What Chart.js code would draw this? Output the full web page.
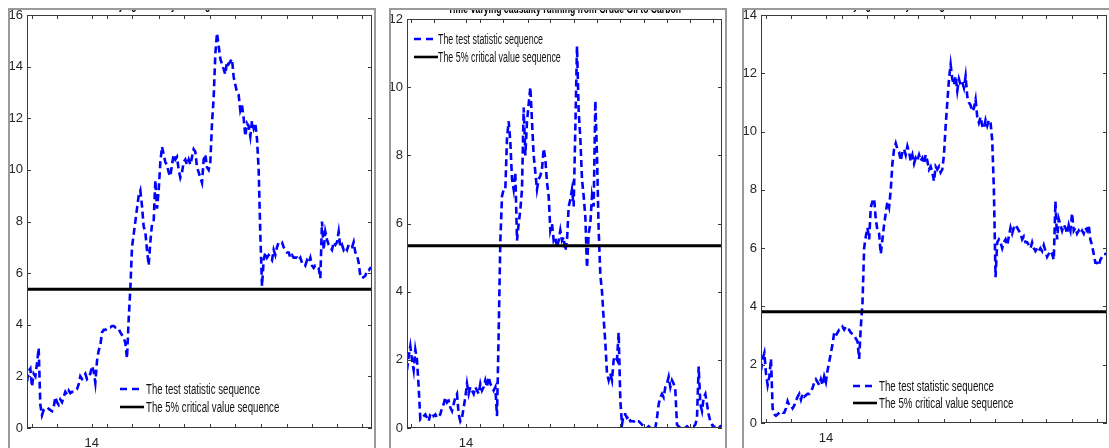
<!DOCTYPE html>
<html>
<head>
<meta charset="utf-8">
<script src="https://cdn.jsdelivr.net/npm/chart.js@4.4.0/dist/chart.umd.min.js"></script>
<style>
  body { margin: 0; background: #fff; width: 1109px; height: 448px; overflow: hidden; position: relative; }
  .panel { position: absolute; top: 8px; height: 460px; border: 2px solid #9a9a9a; overflow: hidden; background: #fff; }
  .panel canvas { display: block; }
</style>
</head>
<body>
<div class="panel" style="left:8px;width:364px;"><canvas id="c1" width="364" height="440"></canvas></div>
<div class="panel" style="left:389px;width:334px;"><canvas id="c2" width="334" height="440"></canvas></div>
<div class="panel" style="left:742px;width:380px;"><canvas id="c3" width="380" height="440"></canvas></div>
<script>
// ---- data ----
const legendLabels = ["The test statistic sequence", "The 5% critical value sequence"];
const titles = [
  "Time-varying causality running from Carbon to Crude Oil",
  "Time-varying causality running from Crude Oil to Carbon",
  "Time-varying causality running from Carbon to Crude Oil"
];

// x tick positions (share of the sample) and their labels
const xTickPos = [0.0136, 0.086, 0.1875, 0.2328, 0.305, 0.383, 0.454, 0.530, 0.603, 0.677, 0.753, 0.825, 0.898, 0.970];
const xTickLabels = ["", "", "14", "", "", "", "", "", "", "", "", "", "", ""];

// 5% critical values
const critValues = [5.38, 5.35, 3.82];
const yMaxes = [16, 12, 14];

// panel 1 test statistic
const stat1 = [
  1.8, 2.2, 2.3, 1.6, 2.1, 2.0, 2.5, 3.1, 0.9, 0.5,
  0.7, 0.75, 0.7, 0.75, 0.7, 0.65, 0.8, 1.2, 1.0, 0.9,
  1.1, 1.0, 1.2, 1.4, 1.3, 1.45, 1.35, 1.4, 1.4, 1.45,
  1.5, 1.7, 2.0, 1.9, 2.0, 2.1, 1.9, 2.0, 2.1, 2.4,
  2.2, 1.75, 2.6, 3.0, 3.2, 3.7, 3.8, 3.8, 3.85, 3.9,
  3.9, 3.95, 3.95, 3.9, 3.9, 3.85, 3.7, 3.6, 3.5, 3.3,
  2.7, 4.2, 5.4, 7.0, 7.5, 8.0, 8.5, 9.0, 9.2, 8.6,
  7.8, 7.6, 6.9, 6.3, 7.2, 7.9, 8.0, 9.6, 8.5, 9.2,
  10.3, 10.9, 10.6, 10.3, 10.2, 9.9, 9.75, 10.2, 10.6, 10.4,
  10.5, 10.0, 9.7, 9.9, 10.3, 10.4, 10.2, 10.4, 10.2, 10.5,
  10.8, 10.7, 10.1, 9.9, 9.7, 9.5, 10.4, 10.6, 10.1, 10.0,
  10.3, 11.8, 12.8, 14.5, 15.3, 14.8, 14.3, 14.1, 13.9, 13.7,
  14.2, 14.1, 14.2, 14.3, 13.6, 13.3, 13.0, 12.9, 12.3, 12.5,
  12.0, 11.3, 11.8, 11.7, 11.3, 11.9, 11.6, 11.8, 11.2, 10.0,
  7.5, 5.5, 6.5, 6.8, 6.6, 6.7, 6.6, 6.5, 6.9, 6.7,
  7.0, 7.2, 7.2, 7.2, 7.0, 6.9, 6.8, 6.8, 6.6, 6.7,
  6.6, 6.6, 6.6, 6.5, 6.6, 6.4, 6.4, 6.3, 6.5, 6.4,
  6.6, 6.3, 6.2, 6.3, 6.3, 6.2, 5.8, 8.0, 6.9, 7.6,
  7.3, 7.1, 7.0, 6.9, 7.2, 7.1, 7.2, 7.6, 7.0, 7.1,
  6.9, 7.0, 6.9, 7.1, 7.0, 7.0, 7.2, 6.8, 6.7, 6.4,
  5.9, 5.8, 5.85, 5.9, 6.1, 6.1, 6.2, 6.2
];

// panel 2 test statistic
const stat2 = [
  1.7, 2.1, 2.4, 2.0, 1.7, 2.3, 2.0, 1.2, 0.25, 0.3,
  0.35, 0.4, 0.3, 0.2, 0.4, 0.45, 0.35, 0.4, 0.3, 0.35,
  0.4, 0.6, 0.7, 0.9, 0.75, 0.8, 0.6, 0.5, 0.7, 0.9,
  1.0, 0.4, 0.2, 0.3, 0.6, 0.9, 1.3, 1.0, 1.2, 1.1,
  1.0, 1.2, 1.1, 1.0, 1.3, 1.1, 1.2, 1.4, 1.2, 1.5,
  1.3, 1.2, 1.1, 1.2, 0.35, 2.8, 5.5, 6.8, 7.0, 7.0,
  8.5, 9.0, 8.4, 7.3, 7.0, 7.5, 5.5, 6.0, 6.4, 7.0,
  9.4, 8.0, 9.0, 9.5, 10.0, 9.0, 8.0, 7.5, 7.0, 7.3,
  7.4, 7.6, 8.2, 7.9, 7.2, 6.8, 5.8, 6.0, 5.5, 5.6,
  5.3, 5.5, 5.8, 5.5, 5.6, 5.2, 5.5, 6.5, 6.7, 7.0,
  6.5, 8.8, 11.2, 9.3, 8.5, 7.3, 6.8, 6.2, 4.7, 5.7,
  6.0, 6.8, 6.5, 9.6, 8.0, 5.8, 4.5, 4.0, 3.2, 2.5,
  1.6, 1.4, 1.6, 1.4, 2.0, 2.1, 2.0, 2.8, 0.8, 0.1,
  0.4, 0.4, 0.3, 0.35, 0.2, 0.2, 0.2, 0.15, 0.2, 0.2,
  0.15, 0.1, 0.05, 0.0, 0.0, 0.05, 0.0, 0.05, 0.05, 0.0,
  0.3, 0.7, 0.9, 1.0, 0.9, 1.2, 1.3, 1.5, 1.2, 1.4,
  1.3, 1.1, 0.1, 0.05, 0.0, 0.0, 0.0, 0.0, 0.05, 0.0,
  0.0, 0.05, 0.05, 0.1, 0.3, 1.8, 0.7, 0.5, 0.9, 1.0,
  0.7, 0.4, 0.2, 0.1, 0.0, 0.05, 0.05, 0.0, 0.05, 0.0
];

// panel 3 test statistic
const stat3 = [
  1.8, 2.2, 2.4, 1.7, 1.3, 1.6, 2.2, 0.5, 0.3, 0.25,
  0.3, 0.35, 0.4, 0.35, 0.35, 0.5, 0.75, 0.6, 0.6, 0.5,
  0.6, 0.75, 0.9, 1.0, 0.8, 1.0, 0.9, 0.95, 1.0, 1.0,
  1.1, 1.2, 1.4, 1.5, 1.4, 1.3, 1.5, 1.3, 1.6, 1.4,
  1.8, 2.1, 2.4, 2.7, 3.1, 3.0, 3.1, 3.2, 3.2, 3.3,
  3.2, 3.3, 3.2, 3.2, 3.1, 3.05, 3.0, 2.9, 2.8, 2.2,
  3.3, 4.1, 6.0, 6.4, 6.7, 6.3, 7.4, 7.6, 7.7, 7.0,
  6.6, 6.5, 5.8, 6.3, 6.8, 7.2, 7.6, 7.4, 8.0, 8.9,
  9.4, 9.6, 9.4, 9.3, 9.0, 9.3, 9.4, 9.2, 9.5, 9.3,
  9.0, 9.2, 8.9, 9.1, 9.0, 9.2, 9.0, 9.1, 8.9, 9.2,
  9.0, 8.7, 8.8, 8.6, 8.3, 8.8, 8.7, 8.8, 8.6, 8.7,
  9.2, 10.2, 11.0, 11.8, 12.3, 11.8, 11.6, 11.9, 11.4, 11.8,
  11.6, 11.7, 11.5, 11.9, 11.2, 11.0, 10.9, 10.7, 10.8, 11.1,
  10.5, 10.3, 10.5, 10.2, 10.1, 10.4, 10.2, 10.4, 10.3, 9.7,
  8.0, 5.0, 6.2, 6.3, 6.2, 6.0, 6.2, 6.3, 6.1, 6.4,
  6.7, 6.5, 6.7, 6.8, 6.7, 6.6, 6.5, 6.3, 6.4, 6.2,
  6.2, 6.1, 6.0, 6.2, 6.0, 5.9, 6.0, 5.9, 6.0, 5.9,
  6.1, 5.9, 5.7, 5.8, 5.9, 5.8, 5.6, 7.6, 6.3, 7.0,
  6.8, 6.6, 6.8, 6.7, 6.5, 6.8, 6.6, 7.2, 6.6, 6.7,
  6.5, 6.6, 6.5, 6.6, 6.5, 6.7, 6.6, 6.8, 6.3, 6.1,
  5.8, 5.5, 5.5, 5.4, 5.6, 5.7, 5.8, 5.8, 5.8
];

const FONT = "'Liberation Sans Narrow', 'Liberation Sans', Arial, sans-serif";

// draws the matlab-like box, inward ticks, legend and title
const matlabFrame = {
  id: "matlabFrame",
  afterDatasetsDraw(chart, args, o) {
    const { ctx, chartArea: a } = chart;
    const x = chart.scales.x, y = chart.scales.y;
    ctx.save();
    ctx.strokeStyle = "#3a3a3a";
    ctx.lineWidth = 1;
    ctx.strokeRect(a.left + 0.5, a.top + 0.5, a.right - a.left - 1, a.bottom - a.top - 1);
    ctx.beginPath();
    x.ticks.forEach((t) => {
      const px = Math.round(x.getPixelForValue(t.value)) + 0.5;
      ctx.moveTo(px, a.bottom); ctx.lineTo(px, a.bottom - 4);
      ctx.moveTo(px, a.top); ctx.lineTo(px, a.top + 4);
    });
    y.ticks.forEach((t) => {
      const py = Math.round(y.getPixelForValue(t.value)) + 0.5;
      ctx.moveTo(a.left, py); ctx.lineTo(a.left + 4, py);
      ctx.moveTo(a.right, py); ctx.lineTo(a.right - 4, py);
    });
    ctx.stroke();

    // legend, no box
    const L = o.legend;
    const lx = a.left + L.dx, ly = a.top + L.dy;
    ctx.lineWidth = 2.4;
    ctx.strokeStyle = "#0000ff";
    ctx.setLineDash([7, 5]);
    ctx.beginPath(); ctx.moveTo(lx, ly); ctx.lineTo(lx + 20, ly); ctx.stroke();
    ctx.setLineDash([]);
    ctx.lineWidth = 2.6;
    ctx.strokeStyle = "#000";
    ctx.beginPath(); ctx.moveTo(lx, ly + L.gap); ctx.lineTo(lx + 24, ly + L.gap); ctx.stroke();

    ctx.font = "14px " + FONT;
    ctx.fillStyle = "#111";
    ctx.textBaseline = "middle";
    ctx.textAlign = "left";
    const sx = L.textWidth / ctx.measureText(legendLabels[0]).width;
    legendLabels.forEach((txt, i) => {
      ctx.save();
      ctx.translate(lx + L.textDx, ly + i * L.gap + 1);
      ctx.scale(sx, 1);
      ctx.fillText(txt, 0, 0);
      ctx.restore();
    });

    // title (top is cut by the frame)
    const T = o.title;
    ctx.font = "bold 12px " + FONT;
    ctx.textBaseline = "alphabetic";
    ctx.textAlign = "center";
    ctx.fillStyle = "#000";
    const tsx = T.width / ctx.measureText(T.text).width;
    ctx.save();
    ctx.translate((a.left + a.right) / 2, T.y);
    ctx.scale(tsx, 1);
    ctx.fillText(T.text, 0, 0);
    ctx.restore();
    ctx.restore();
  }
};

function drawPanel(id, stat, crit, yMax, title, box, legend) {
  const canvas = document.getElementById(id);
  const last = stat.length - 1;
  new Chart(canvas.getContext("2d"), {
    type: "line",
    data: {
      datasets: [
        {
          label: legendLabels[0],
          data: stat.map((v, i) => ({ x: i, y: v })),
          borderColor: "#0000ff",
          borderWidth: 2.6,
          borderDash: [7, 4],
          pointRadius: 0,
          tension: 0,
          order: 2,
        },
        {
          label: legendLabels[1],
          data: [{ x: 0, y: crit }, { x: last, y: crit }],
          borderColor: "#000000",
          borderWidth: 3,
          pointRadius: 0,
          order: 1,
        },
      ],
    },
    options: {
      responsive: false,
      animation: false,
      devicePixelRatio: 1,
      events: [],
      layout: { padding: { left: 0, top: box.top, right: canvas.width - box.right, bottom: 0 } },
      plugins: {
        legend: { display: false },
        tooltip: { enabled: false },
        matlabFrame: { legend: legend, title: title },
      },
      scales: {
        x: {
          type: "linear",
          min: 0,
          max: last,
          grid: { display: false, drawTicks: false },
          border: { display: false },
          afterBuildTicks: (s) => { s.ticks = xTickPos.map((f) => ({ value: f * last })); },
          afterFit: (s) => {
            s.height = canvas.height - box.bottom;
            s.paddingLeft = 0; s.paddingRight = 0;
          },
          ticks: {
            autoSkip: false,
            maxRotation: 0,
            padding: 8,
            color: "#262626",
            font: { family: FONT, size: 13 },
            callback: (v, i) => xTickLabels[i],
          },
        },
        y: {
          min: 0,
          max: yMax,
          grid: { display: false, drawTicks: false },
          border: { display: false },
          afterFit: (s) => {
            s.width = box.left;
            s.paddingTop = 0; s.paddingBottom = 0;
          },
          ticks: {
            stepSize: 2,
            padding: 4,
            color: "#262626",
            font: { family: FONT, size: 13 },
          },
        },
      },
    },
    plugins: [matlabFrame],
  });
}

drawPanel("c1", stat1, critValues[0], yMaxes[0],
  { text: titles[0], y: -1, width: 233 },
  { left: 17, top: 5, right: 362, bottom: 418 },
  { dx: 93, dy: 374, gap: 18, textDx: 26, textWidth: 114 });

drawPanel("c2", stat2, critValues[1], yMaxes[1],
  { text: titles[1], y: 3, width: 233 },
  { left: 16, top: 9, right: 331, bottom: 418 },
  { dx: 7, dy: 20, gap: 18, textDx: 24, textWidth: 105 });

drawPanel("c3", stat3, critValues[2], yMaxes[2],
  { text: titles[2], y: -1, width: 233 },
  { left: 17, top: 5, right: 363, bottom: 413 },
  { dx: 92, dy: 371, gap: 17, textDx: 26, textWidth: 115 });
</script>
</body>
</html>
